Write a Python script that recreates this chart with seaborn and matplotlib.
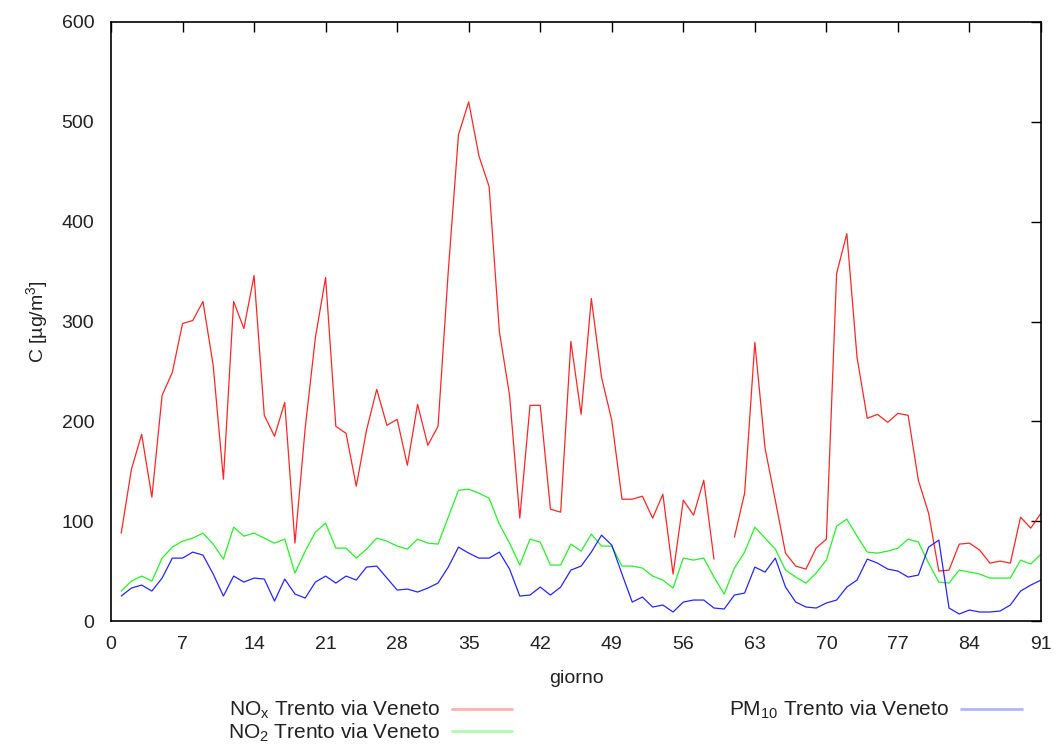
import numpy as np
import pandas as pd
import matplotlib
matplotlib.use("Agg")
import matplotlib.pyplot as plt
from matplotlib.lines import Line2D
import seaborn as sns

# Daily concentrations, days 1..91
days = list(range(1, 92))

nox = [88, 152, 187, 124, 226, 249, 298, 301, 320, 256,
       142, 320, 293, 346, 206, 185, 219, 78, 193, 284,
       344, 195, 188, 135, 191, 232, 196, 202, 156, 217,
       176, 195, 350, 487, 520, 466, 435, 290, 226, 103,
       216, 216, 112, 109, 280, 207, 323, 244, 201, 122,
       122, 125, 103, 127, 47, 121, 106, 141, 62, np.nan,
       84, 128, 279, 173, 121, 68, 55, 52, 73, 82,
       348, 388, 264, 203, 207, 199, 208, 206, 141, 108,
       50, 51, 77, 78, 71, 58, 60, 58, 104, 93,
       108]

no2 = [30, 40, 45, 40, 63, 74, 80, 83, 88, 77,
       62, 94, 85, 88, 83, 78, 82, 48, 70, 89,
       98, 73, 73, 63, 72, 83, 80, 75, 72, 82,
       78, 77, 104, 131, 132, 128, 123, 97, 78, 56,
       82, 79, 56, 56, 77, 70, 87, 75, 75, 55,
       55, 53, 45, 41, 33, 63, 61, 63, 44, 27,
       53, 69, 94, 83, 72, 51, 44, 38, 48, 61,
       95, 102, 85, 69, 68, 70, 73, 82, 79, 58,
       39, 38, 51, 49, 47, 43, 43, 43, 61, 57,
       67]

pm10 = [25, 33, 36, 30, 43, 63, 63, 69, 66, 47,
        25, 45, 39, 43, 42, 20, 42, 27, 23, 39,
        45, 38, 45, 41, 54, 55, 43, 31, 32, 29,
        33, 38, 54, 74, 68, 63, 63, 69, 52, 25,
        26, 34, 26, 34, 51, 55, 69, 86, 76, 47,
        19, 24, 14, 16, 9, 19, 21, 21, 13, 12,
        26, 28, 54, 49, 63, 34, 19, 14, 13, 18,
        21, 34, 41, 62, 58, 52, 50, 44, 46, 74,
        81, 13, 7, 11, 9, 9, 10, 16, 30, 36,
        41]

series_labels = [r"NO$_\mathrm{x}$ Trento via Veneto",
                 r"NO$_\mathrm{2}$ Trento via Veneto",
                 r"PM$_\mathrm{10}$ Trento via Veneto"]
series_colors = ["#ff0000", "#00ee00", "#0000ff"]
x_ticks = list(range(0, 92, 7))
y_ticks = list(range(0, 601, 100))

sns.set_theme(style="white")
plt.rcParams["font.family"] = ["Liberation Sans", "DejaVu Sans"]
plt.rcParams["mathtext.fontset"] = "custom"
plt.rcParams["mathtext.rm"] = "Liberation Sans"
plt.rcParams["mathtext.it"] = "Liberation Sans:italic"
plt.rcParams["mathtext.default"] = "regular"

fig = plt.figure(figsize=(10.55, 7.45), dpi=100)
ax = fig.add_axes([111 / 1055, 1 - 621 / 745, 930 / 1055, 599 / 745])


def segments(values):
    # split a series into contiguous runs so missing days leave a gap
    seg, ids = 0, []
    for v in values:
        if pd.isna(v):
            seg += 1
        ids.append(seg)
    return ids


for vals, color in zip([nox, no2, pm10], series_colors):
    df = pd.DataFrame({"giorno": days, "C": vals, "seg": segments(vals)}).dropna()
    sns.lineplot(data=df, x="giorno", y="C", units="seg", estimator=None,
                 color=color, linewidth=0.9, alpha=0.85, ax=ax, legend=False)

ax.set_xlim(0, 91)
ax.set_ylim(0, 600)
ax.set_xticks(x_ticks)
ax.set_yticks(y_ticks)
ax.tick_params(axis="both", which="both", direction="in", length=7, width=1,
               color="black", labelsize=14, labelcolor="#222222",
               top=True, right=True)
ax.tick_params(axis="x", pad=11)
ax.tick_params(axis="y", pad=12)
for sp in ax.spines.values():
    sp.set_color("black")
    sp.set_linewidth(1.2)
    sp.set_visible(True)

ax.set_xlabel("giorno", fontsize=14, labelpad=12, color="#222222")
ax.set_ylabel(r"C [µg/m$^\mathrm{3}$]", fontsize=14, labelpad=8, color="#222222")

handles = [Line2D([], [], color=c, linewidth=2.0, alpha=0.3) for c in series_colors]
fig.legend(handles, series_labels, ncol=2, markerfirst=False, frameon=False,
           loc="upper left", bbox_to_anchor=(228 / 1055, 1 - 699 / 745),
           borderaxespad=0, fontsize=15, handlelength=2.9, handletextpad=0.58,
           columnspacing=10.4, labelspacing=0.0, borderpad=0,
           labelcolor="#222222")

fig.savefig("out.png", dpi=100)
